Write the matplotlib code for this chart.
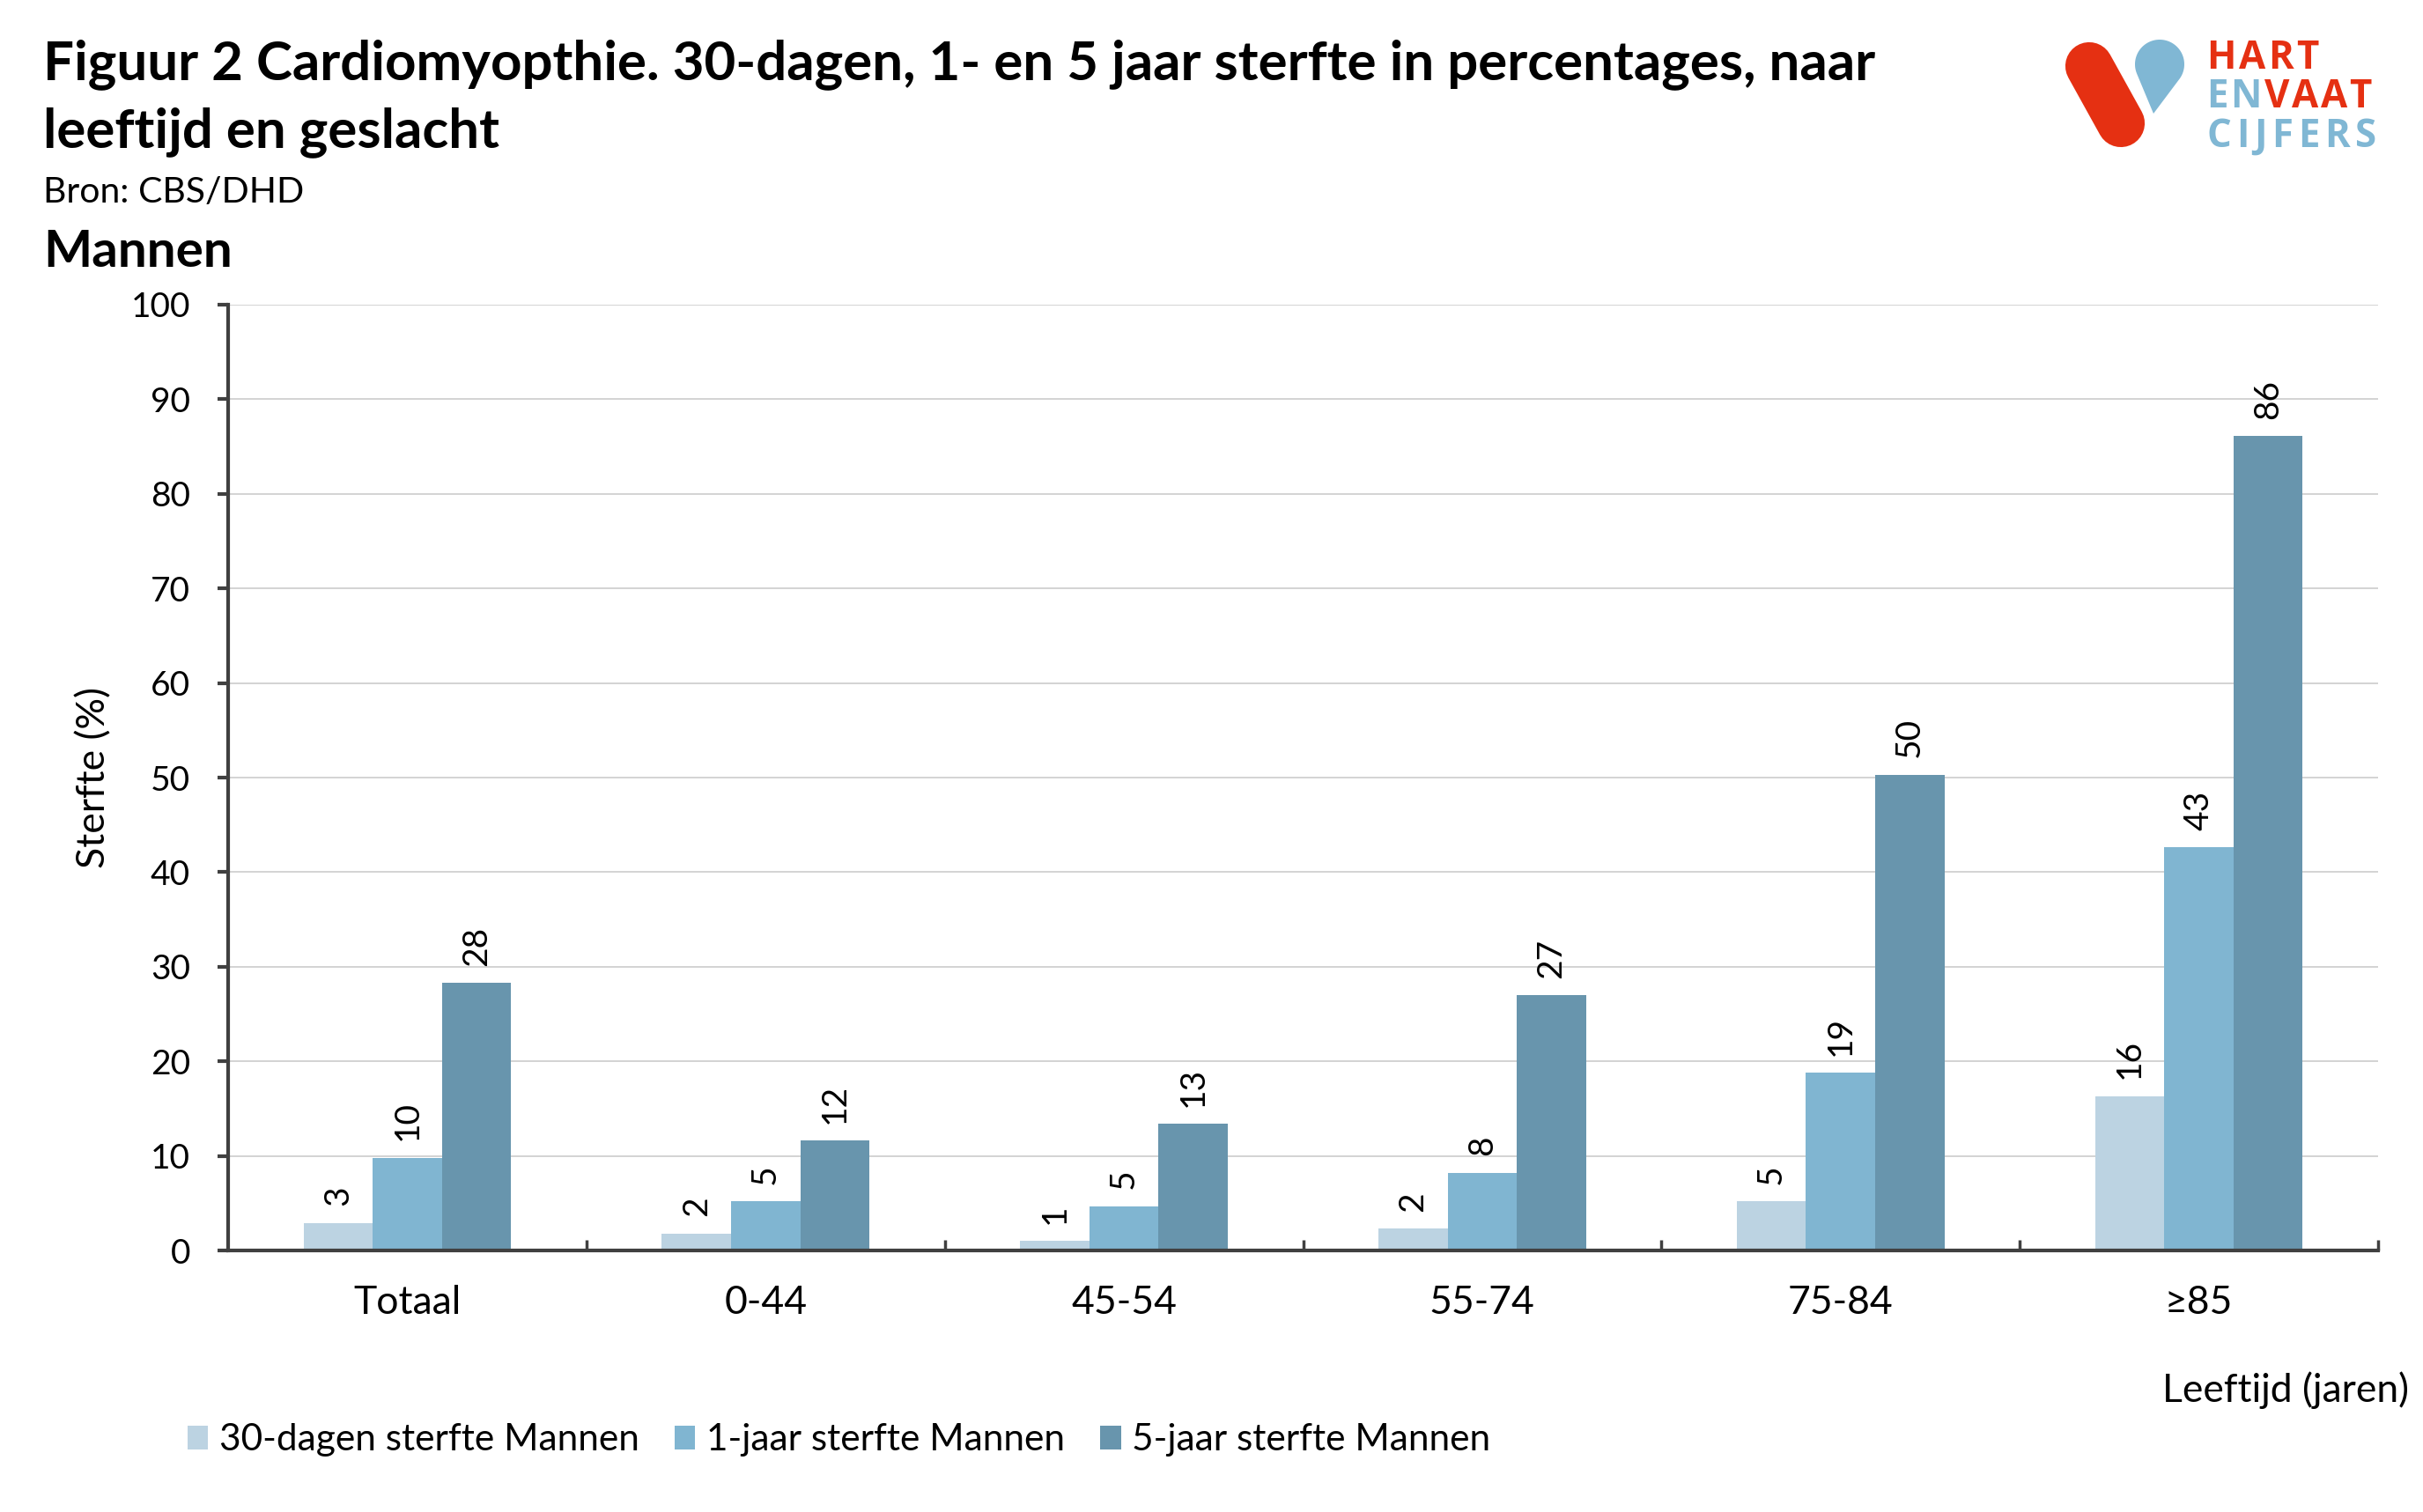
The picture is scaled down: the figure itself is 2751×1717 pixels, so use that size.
import numpy as np
import matplotlib
matplotlib.use("Agg")
import matplotlib.pyplot as plt
from matplotlib.patches import Polygon

# ---------------------------------------------------------------------------
# Data
# ---------------------------------------------------------------------------
categories = ["Totaal", "0-44", "45-54", "55-74", "75-84", "≥85"]
sterfte_30d = [2.9, 1.8, 1.0, 2.3, 5.2, 16.3]
sterfte_1j = [9.8, 5.2, 4.7, 8.2, 18.8, 42.6]
sterfte_5j = [28.3, 11.6, 13.4, 27.0, 50.3, 86.1]
series_labels = [
    "30-dagen sterfte Mannen",
    "1-jaar sterfte Mannen",
    "5-jaar sterfte Mannen",
]
yticks = list(range(0, 101, 10))

COLORS = ["#BCD3E2", "#80B5D1", "#6895AD"]
AXIS_COLOR = "#404040"
W, H = 2751, 1717

plt.rcParams["font.family"] = ["Lato", "DejaVu Sans"]

fig = plt.figure(figsize=(W / 100, H / 100), dpi=100)
ax = fig.add_axes([259 / W, 1 - 1420 / H, (2700 - 259) / W, (1420 - 346) / H])

x = np.arange(len(categories))
bw = 0.193
for i, (vals, col, lab) in enumerate(zip([sterfte_30d, sterfte_1j, sterfte_5j],
                                         COLORS, series_labels)):
    bars = ax.bar(x + (i - 1) * bw, vals, width=bw, color=col, label=lab,
                  zorder=3)
    for b, v in zip(bars, vals):
        ax.annotate(f"{v:.0f}", xy=(b.get_x() + b.get_width() / 2, v),
                    xytext=(0, 14), textcoords="offset points",
                    rotation=90, ha="center", va="bottom", fontsize=28)

ax.set_xlim(-0.5, len(categories) - 0.5)
ax.set_ylim(0, 100)
ax.set_yticks(yticks)
ax.set_xticks(x)
ax.set_xticklabels(categories, fontsize=32)
ax.set_xticks(np.arange(0.5, len(categories), 1.0), minor=True)
ax.tick_params(axis="x", which="major", length=0, pad=28)
ax.tick_params(axis="x", which="minor", direction="in", length=9, width=2.5,
               color=AXIS_COLOR)
ax.tick_params(axis="y", direction="out", length=9, width=3, color=AXIS_COLOR,
               labelsize=28, pad=22)

ax.grid(axis="y", color="#C8C8C8", linewidth=1.1, zorder=0)
ax.set_axisbelow(True)
for s in ["top", "right"]:
    ax.spines[s].set_visible(False)
for s in ["left", "bottom"]:
    ax.spines[s].set_color(AXIS_COLOR)
    ax.spines[s].set_linewidth(3)
ax.spines["bottom"].set_zorder(4)

ax.set_ylabel("Sterfte (%)", fontsize=32)
ax.yaxis.set_label_coords((127 - 259) / (2700 - 259), 0.5)

leg = fig.legend(loc="center left", bbox_to_anchor=(213 / W, 1 - 1635 / H),
                 ncol=3, frameon=False, fontsize=30.5, handlelength=0.55,
                 handleheight=0.6, handletextpad=0.3, columnspacing=0.95,
                 borderpad=0, borderaxespad=0)

# ---------------------------------------------------------------------------
# Overlay in pixel coordinates for titles and logo
# ---------------------------------------------------------------------------
ov = fig.add_axes([0, 0, 1, 1], zorder=-1)
ov.set_xlim(0, W)
ov.set_ylim(H, 0)
ov.axis("off")

ov.text(49, 90, "Figuur 2 Cardiomyopthie. 30-dagen, 1- en 5 jaar sterfte in percentages, naar",
        fontsize=44.5, fontweight="bold", va="baseline")
ov.text(49, 167, "leeftijd en geslacht", fontsize=44.5, fontweight="bold",
        va="baseline")
ov.text(49, 230, "Bron: CBS/DHD", fontsize=29.5, va="baseline")
ov.text(49, 303, "Mannen", fontsize=42, fontweight="bold", va="baseline")
ov.text(2735, 1592, "Leeftijd (jaren)", fontsize=32, ha="right", va="baseline")

# logo: red pill + blue drop + wordmark
RED, BLUE = "#E53012", "#80B7D4"
ov.plot([2372, 2408], [75, 140], color=RED, linewidth=39,
        solid_capstyle="round")
c = np.array([2452.0, 73.0])
r = 28.0
tip = np.array([2445.0, 129.0])
d = tip - c
dist = np.hypot(*d)
base = np.arctan2(d[1], d[0])
alpha = np.arccos(r / dist)
angles = np.linspace(base + alpha, base + 2 * np.pi - alpha, 80)
pts = np.column_stack([c[0] + r * np.cos(angles), c[1] + r * np.sin(angles)])
pts = np.vstack([pts, tip])
ov.add_patch(Polygon(pts, closed=True, facecolor=BLUE, edgecolor="none"))

# wordmark, letter-spaced to fit the logo block width
renderer = fig.canvas.get_renderer()
lfont = dict(fontsize=31.5, fontweight="bold", va="baseline",
             family=["Open Sans", "DejaVu Sans"])
logo_lines = [
    ("HART", [RED] * 4, 78, 2632),
    ("ENVAAT", [BLUE] * 2 + [RED] * 4, 122, 2693),
    ("CIJFERS", [BLUE] * 7, 167, 2698),
]
x0 = 2505
for word, cols, yb, x1 in logo_lines:
    glyphs = [ov.text(0, yb, ch, color=cc, **lfont) for ch, cc in zip(word, cols)]
    widths = [g.get_window_extent(renderer).width for g in glyphs]
    gap = (x1 - x0 - sum(widths)) / (len(word) - 1)
    xx = x0
    for g, w in zip(glyphs, widths):
        g.set_x(xx)
        xx += w + gap

fig.savefig("out.png", dpi=100)
